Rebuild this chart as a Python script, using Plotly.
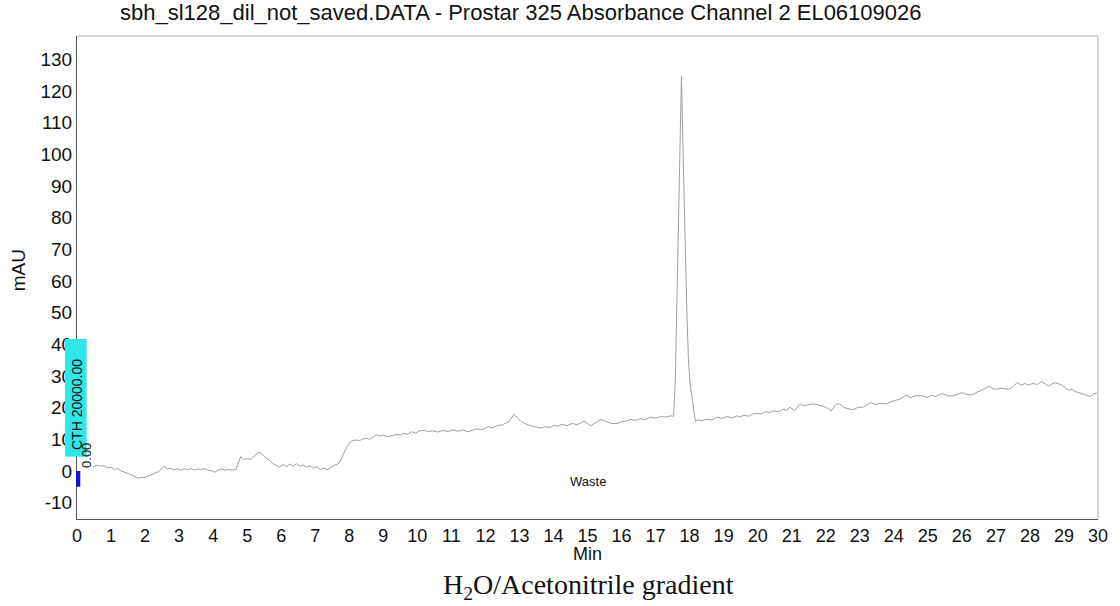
import plotly.graph_objects as go

# Chromatogram trace: time (min) and absorbance (mAU)
time_min = [
    0.48, 0.6, 0.72, 0.8, 0.9, 1.0, 1.1, 1.2, 1.3, 1.4, 1.5, 1.6, 1.7, 1.8, 1.9, 2.0,
    2.1, 2.2, 2.3, 2.4, 2.5, 2.57, 2.65, 2.75, 2.85, 2.95, 3.05, 3.15, 3.25, 3.35, 3.45,
    3.55, 3.65, 3.75, 3.85, 3.95, 4.05, 4.15, 4.25, 4.35, 4.45, 4.55, 4.67, 4.75, 4.81,
    4.9, 5.0, 5.11, 5.2, 5.3, 5.35, 5.45, 5.55, 5.65, 5.75, 5.85, 5.95, 6.05, 6.15, 6.25,
    6.35, 6.45, 6.55, 6.65, 6.75, 6.85, 6.95, 7.05, 7.15, 7.25, 7.35, 7.45, 7.55, 7.65,
    7.72, 7.8, 7.9, 8.0, 8.08, 8.2, 8.3, 8.4, 8.5, 8.6, 8.7, 8.8, 8.9, 9.0, 9.1, 9.25,
    9.4, 9.5, 9.6, 9.7, 9.83, 9.95, 10.05, 10.2, 10.3, 10.45, 10.6, 10.75, 10.9, 11.05,
    11.2, 11.35, 11.49, 11.6, 11.75, 11.9, 12.08, 12.2, 12.35, 12.5, 12.6, 12.7, 12.84,
    12.95, 13.05, 13.2, 13.35, 13.5, 13.63, 13.75, 13.9, 14.0, 14.12, 14.25, 14.4, 14.55,
    14.7, 14.8, 14.9, 15.0, 15.1, 15.2, 15.3, 15.39, 15.5, 15.6, 15.7, 15.88, 16.0, 16.15,
    16.27, 16.4, 16.55, 16.7, 16.85, 17.0, 17.15, 17.3, 17.44, 17.53, 17.58, 17.61, 17.66,
    17.71, 17.76, 17.81, 17.86, 17.92, 17.97, 18.02, 18.07, 18.12, 18.17, 18.25, 18.35,
    18.5, 18.65, 18.8, 18.95, 19.1, 19.25, 19.4, 19.48, 19.6, 19.75, 19.85, 19.97, 20.1,
    20.25, 20.35, 20.46, 20.6, 20.75, 20.85, 20.95, 21.09, 21.24, 21.35, 21.5, 21.63,
    21.8, 21.92, 22.05, 22.16, 22.3, 22.4, 22.55, 22.7, 22.8, 22.95, 23.09, 23.2, 23.33,
    23.45, 23.6, 23.77, 23.9, 24.05, 24.2, 24.36, 24.5, 24.65, 24.84, 25.0, 25.1, 25.23,
    25.43, 25.55, 25.72, 25.85, 26.01, 26.15, 26.31, 26.45, 26.6, 26.79, 26.9, 26.99,
    27.15, 27.38, 27.5, 27.62, 27.75, 27.85, 27.96, 28.1, 28.2, 28.35, 28.45, 28.55,
    28.65, 28.74, 28.85, 28.95, 29.05, 29.13, 29.25, 29.35, 29.52, 29.65, 29.77, 29.88, 30.0,
]
absorbance_mau = [
    1.4, 1.8, 1.5, 1.7, 1.0, 1.1, 0.6, 0.7, 0.0, -0.3, -0.8, -1.2, -1.8, -2.3, -2.0, -2.0,
    -1.5, -1.2, -0.6, -0.2, 0.8, 1.6, 0.6, 0.9, 0.3, 0.8, 0.2, 0.7, 0.4, 0.8, 0.3,
    0.6, 0.5, 0.8, 0.2, 0.1, -0.4, 0.3, 0.6, 0.2, 0.5, 0.3, 0.5, 2.5, 4.5,
    3.6, 3.9, 3.7, 4.6, 5.5, 6.0, 5.2, 4.1, 3.4, 2.4, 1.8, 1.2, 2.0, 1.4, 2.2,
    1.6, 2.3, 1.5, 1.9, 1.2, 1.6, 0.9, 1.3, 0.5, 0.9, 0.4, 1.1, 1.6, 2.2,
    2.8, 4.8, 7.0, 8.8, 9.5, 9.8, 9.6, 10.1, 10.3, 10.0, 10.6, 11.4, 11.0, 11.3, 10.9, 11.1,
    11.6, 11.3, 11.9, 11.6, 12.4, 12.0, 12.6, 12.9, 12.4, 12.7, 12.3, 12.8, 12.5, 12.9,
    12.6, 12.9, 12.4, 12.8, 13.3, 13.0, 14.0, 13.6, 14.3, 14.6, 15.0, 15.6, 17.9,
    16.6, 15.6, 14.8, 14.2, 13.9, 13.5, 14.0, 13.7, 14.4, 14.2, 14.7, 14.3, 15.0,
    14.6, 15.2, 15.8, 15.0, 14.3, 15.0, 15.6, 16.3, 15.8, 15.3, 15.0, 15.0, 15.6, 15.8,
    16.3, 16.0, 16.5, 16.2, 17.0, 16.7, 17.2, 17.0, 17.4, 17.3, 28.7, 44.5, 72.0,
    100.0, 124.7, 100.0, 72.0, 50.0, 34.0, 27.0, 23.5, 18.5, 15.6, 16.2, 15.8,
    16.4, 16.1, 17.0, 16.6, 17.2, 16.8, 17.4, 17.1, 17.6, 17.3, 18.0, 18.2, 18.0,
    18.8, 18.4, 19.0, 18.7, 19.5, 19.2, 20.1, 19.0, 21.2, 20.6, 21.0, 21.2,
    20.8, 20.5, 19.8, 19.0, 21.0, 21.2, 20.0, 19.5, 19.3, 20.1, 20.1, 20.8, 21.6,
    21.0, 21.4, 21.2, 21.8, 22.3, 22.8, 24.0, 23.2, 23.8, 23.7, 23.2, 23.9, 23.5,
    24.5, 23.8, 23.7, 24.2, 24.7, 24.2, 24.0, 24.9, 25.6, 26.8, 26.0, 25.8,
    26.1, 25.8, 26.6, 27.9, 27.1, 27.6, 27.2, 27.7, 27.3, 28.2, 27.6, 26.8,
    27.5, 27.9, 27.5, 27.0, 26.2, 25.6, 25.7, 25.0, 24.5, 24.0, 23.5, 24.4, 24.7,
]

x_ticks = list(range(0, 31))
y_ticks = list(range(-10, 131, 10))

title_text = "sbh_sl128_dil_not_saved.DATA - Prostar 325 Absorbance Channel 2 EL06109026"
caption_text = "H<sub>2</sub>O/Acetonitrile gradient"

W, H = 1120, 606
L, R, T, B = 77, 1103, 36, 519


def px(xp):
    return (xp - L) / (R - L)


def py(yp):
    return (B - yp) / (B - T)


fig = go.Figure()
fig.add_trace(go.Scatter(
    x=time_min, y=absorbance_mau, mode="lines",
    line=dict(color="#a0a0a0", width=1), showlegend=False, hoverinfo="skip",
))

fig.update_layout(
    width=W, height=H,
    margin=dict(l=L, r=W - R, t=T, b=H - B, pad=0),
    paper_bgcolor="white", plot_bgcolor="white",
    font=dict(family="Liberation Sans, Arial, sans-serif", color="#111"),
    xaxis=dict(
        range=[0, 30], tickvals=x_ticks, ticktext=[str(v) for v in x_ticks],
        showgrid=False, zeroline=False, showline=True, linecolor="#555", linewidth=1,
        ticks="", tickfont=dict(family="Liberation Sans, Arial", size=18, color="#111"),
    ),
    yaxis=dict(
        range=[-15.16, 137.35], tickvals=y_ticks, ticktext=[str(v) for v in y_ticks],
        showgrid=False, zeroline=False, showline=True, linecolor="#555", linewidth=1,
        ticks="", tickfont=dict(family="Liberation Sans, Arial", size=19, color="#111"),
    ),
    shapes=[
        dict(type="line", xref="paper", yref="paper", x0=0, x1=1, y0=1, y1=1,
             line=dict(color="#d4d4d4", width=2)),
        dict(type="line", xref="paper", yref="paper", x0=1, x1=1, y0=0, y1=1,
             line=dict(color="#d4d4d4", width=2)),
        dict(type="rect", xref="paper", yref="paper", x0=px(65), x1=px(86.7),
             y0=py(456.7), y1=py(339), fillcolor="#30e6ea", line=dict(width=0), layer="above"),
        dict(type="rect", xref="paper", yref="paper", x0=px(76), x1=px(80.3),
             y0=py(486.7), y1=py(471), fillcolor="#1414d2", line=dict(width=0), layer="above"),
    ],
    annotations=[
        dict(text=title_text, xref="paper", yref="paper", x=px(523), y=py(13),
             showarrow=False, xanchor="center", yanchor="middle",
             font=dict(size=22, color="#111")),
        dict(text="mAU", xref="paper", yref="paper", x=px(18), y=py(270), textangle=-90,
             showarrow=False, xanchor="center", yanchor="middle", font=dict(size=19, color="#111")),
        dict(text="Min", xref="paper", yref="paper", x=px(590), y=py(554),
             showarrow=False, xanchor="center", yanchor="middle",
             font=dict(family="Liberation Sans, Arial", size=18, color="#111")),
        dict(text=caption_text, xref="paper", yref="paper", x=px(591), y=py(586),
             showarrow=False, xanchor="center", yanchor="middle",
             font=dict(family="Liberation Serif, Times New Roman, serif", size=28, color="#111")),
        dict(text="CTH 20000.00", xref="paper", yref="paper", x=px(77), y=py(405), textangle=-90,
             showarrow=False, xanchor="center", yanchor="middle", font=dict(size=14, color="#111")),
        dict(text="0.00", xref="paper", yref="paper", x=px(86), y=py(455), textangle=-90,
             showarrow=False, xanchor="center", yanchor="middle", font=dict(size=13, color="#111")),
        dict(text="Waste", x=15.0, y=-3.2, xref="x", yref="y",
             showarrow=False, xanchor="center", yanchor="middle", font=dict(size=13, color="#111")),
    ],
)

fig.write_html("out.html")
